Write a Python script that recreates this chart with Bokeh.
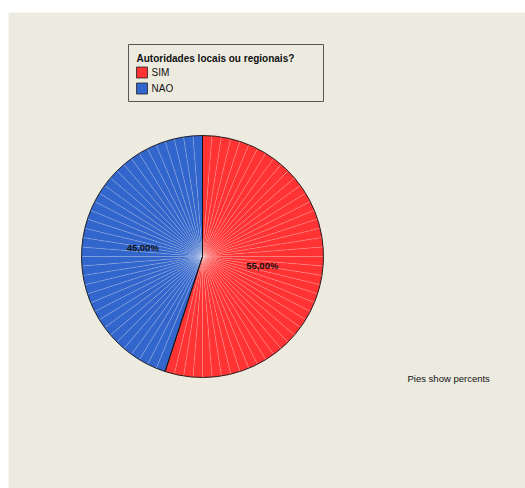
import numpy as np
from bokeh.plotting import figure
from bokeh.models import Range1d, ColumnDataSource
from bokeh.core.properties import value
from bokeh.embed import file_html
from bokeh.resources import INLINE

# ---- data ----
categories = ["SIM", "NAO"]
percents = [55.0, 45.0]
case_counts = [44, 36]          # individual case slices drawn inside each category
colors = ["#FF3333", "#3366CC"]
legend_title = "Autoridades locais ou regionais?"
note_text = "Pies show percents"

W, H = 525, 488
BG = "#EDEBE0"
FONT = "Liberation Sans"

p = figure(width=W, height=H, output_backend="svg", toolbar_location=None,
           x_range=Range1d(8, W), y_range=Range1d(0, H - 12),
           min_border_left=8, min_border_top=12, min_border_right=0, min_border_bottom=0,
           background_fill_color=BG, border_fill_color="white", outline_line_color=None)
p.axis.visible = False
p.grid.visible = False

cx, cy, r = 202, H - 256, 121

# cumulative angles (clockwise from 12 o'clock)
fr = np.array(percents) / sum(percents)
cum = np.concatenate([[0], np.cumsum(fr)])

# individual case slices
starts, ends, fills = [], [], []
for i, (n, c) in enumerate(zip(case_counts, colors)):
    edges = np.linspace(cum[i], cum[i + 1], n + 1)
    for a, b in zip(edges[:-1], edges[1:]):
        starts.append(np.pi / 2 - b * 2 * np.pi)
        ends.append(np.pi / 2 - a * 2 * np.pi)
        fills.append(c)
src = ColumnDataSource(dict(s=starts, e=ends, c=fills))
p.wedge(x=cx, y=cy, radius=r, start_angle="s", end_angle="e", source=src,
        fill_color="c", line_color="white", line_alpha=0.25, line_width=0.6)

# category outlines
cat_src = ColumnDataSource(dict(
    s=[np.pi / 2 - cum[i + 1] * 2 * np.pi for i in range(len(categories))],
    e=[np.pi / 2 - cum[i] * 2 * np.pi for i in range(len(categories))]))
p.wedge(x=cx, y=cy, radius=r, start_angle="s", end_angle="e", source=cat_src,
        fill_alpha=0, line_color="#111111", line_width=0.9)

# percentage labels at half radius on mid-angle
mids = [np.pi / 2 - (cum[i] + cum[i + 1]) / 2 * 2 * np.pi for i in range(len(categories))]
lab = ColumnDataSource(dict(
    x=[cx + 0.5 * r * np.cos(m) for m in mids],
    y=[cy + 0.5 * r * np.sin(m) for m in mids],
    t=[("%.2f%%" % v).replace(".", ",") for v in percents]))
p.text(x="x", y="y", text="t", source=lab, text_align="center", text_baseline="middle",
       text_font=value(FONT), text_font_size="9.5px", text_font_style="bold", text_color="#111111")

# legend box
lx0, ly0, lx1, ly1 = 128, H - 44, 323, H - 101
p.quad(left=[lx0], right=[lx1], top=[ly0], bottom=[ly1], fill_color=BG,
       line_color="#555555", line_width=1)
p.text(x=[136], y=[H - 58], text=[legend_title], text_baseline="middle",
       text_font=value(FONT), text_font_size="10px", text_font_style="bold", text_color="#111111")
sw_y = [H - 72, H - 88]
p.quad(left=[136] * 2, right=[147] * 2, top=[y + 5.5 for y in sw_y], bottom=[y - 5.5 for y in sw_y],
       fill_color=colors, line_color="#222222", line_width=0.8)
p.text(x=[151] * 2, y=sw_y, text=categories, text_baseline="middle",
       text_font=value(FONT), text_font_size="10px", text_color="#111111")

# note
p.text(x=[407], y=[H - 378], text=[note_text], text_baseline="middle",
       text_font=value(FONT), text_font_size="9.5px", text_color="#111111")

open("out.html", "w").write(file_html(p, INLINE))
